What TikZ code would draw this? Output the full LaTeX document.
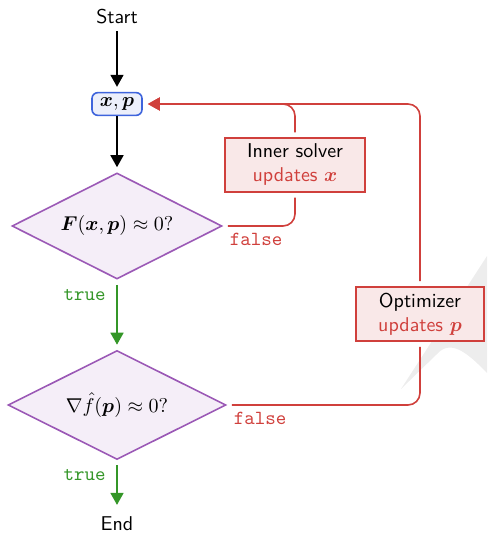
\documentclass[tikz,border=0pt]{standalone}
\usepackage{amssymb,amsmath}
\usetikzlibrary{shapes.geometric,arrows.meta}

\definecolor{flowred}{RGB}{208,64,60}
\definecolor{flowblue}{RGB}{62,100,220}
\definecolor{flowpurple}{RGB}{155,89,182}
\definecolor{flowgreen}{RGB}{52,150,40}

\tikzset{
  every node/.style={font=\sffamily},
  decision/.style={diamond, aspect=2, draw=flowpurple, fill=flowpurple!10,
    line width=0.8pt, inner sep=1pt},
  statebox/.style={rounded corners=3pt, draw=flowblue, fill=flowblue!10,
    line width=0.8pt, inner xsep=4pt, inner ysep=2.5pt},
  solverbox/.style={draw=flowred, fill=flowred!12, line width=0.8pt,
    align=center, inner xsep=11pt, inner ysep=3pt},
  flowarrow/.style={-{Triangle[width=6.5pt,length=6pt]}, line width=0.8pt,
    shorten >=2.5pt},
  trueline/.style={flowarrow, draw=flowgreen, shorten <=2.5pt},
  falseline/.style={flowarrow, draw=flowred, rounded corners=6pt,
    shorten <=2.5pt},
  truelabel/.style={text=flowgreen, font=\ttfamily},
  falselabel/.style={text=flowred, font=\ttfamily},
}

\begin{document}
\begin{tikzpicture}[x=0.5pt, y=-0.5pt]
    \useasboundingbox (0,0) rectangle (487,533);

    % faint mark in the background
    \fill[black!7] (401,389) -- (487,256) -- (487,373)
        .. controls (465,350) and (450,340) .. (437,354) -- cycle;

    % Main column
    \node (start) at (117,17) {Start};
    \node[statebox] (xp) at (117,104) {$\boldsymbol{x},\boldsymbol{p}$};
    \node[decision, minimum width=105pt, minimum height=53pt] (inner check) at (117,226)
        {$\boldsymbol{F}(\boldsymbol{x},\boldsymbol{p}) \approx 0?$};
    \node[decision, minimum width=109pt, minimum height=54.5pt] (outer check) at (117,405)
        {$\nabla \hat{f}(\boldsymbol{p}) \approx 0?$};
    \node (end) at (117,524) {End};

    % Solvers
    \node[solverbox] (inner solver) at (295,165)
        {Inner solver\\ {\color{flowred}updates $\boldsymbol{x}$}};
    \node[solverbox] (optimizer) at (420,314)
        {Optimizer\\ {\color{flowred}updates $\boldsymbol{p}$}};

    % Arrows down
    \draw[flowarrow] (start) -- (xp);
    \draw[flowarrow] (xp) -- (inner check);
    \draw[trueline] (inner check) -- node[truelabel, pos=0, anchor=north east, xshift=-2pt, yshift=-1pt] {true} (outer check);
    \draw[trueline] (outer check) -- node[truelabel, pos=0, anchor=north east, xshift=-2pt, yshift=-1pt] {true} (end);

    % Inner loop
    \draw[falseline, -] (inner check.east) -| (inner solver.south);
    \draw[falseline] (inner solver.north) |- (xp.east);
    \node[falselabel, below right] at (inner check.east) {false};

    % Outer loop
    \draw[falseline, -] (outer check.east) -| (optimizer.south);
    \draw[falseline] (optimizer.north) |- (xp.east);
    \node[falselabel, below right] at (outer check.east) {false};
\end{tikzpicture}
\end{document}
